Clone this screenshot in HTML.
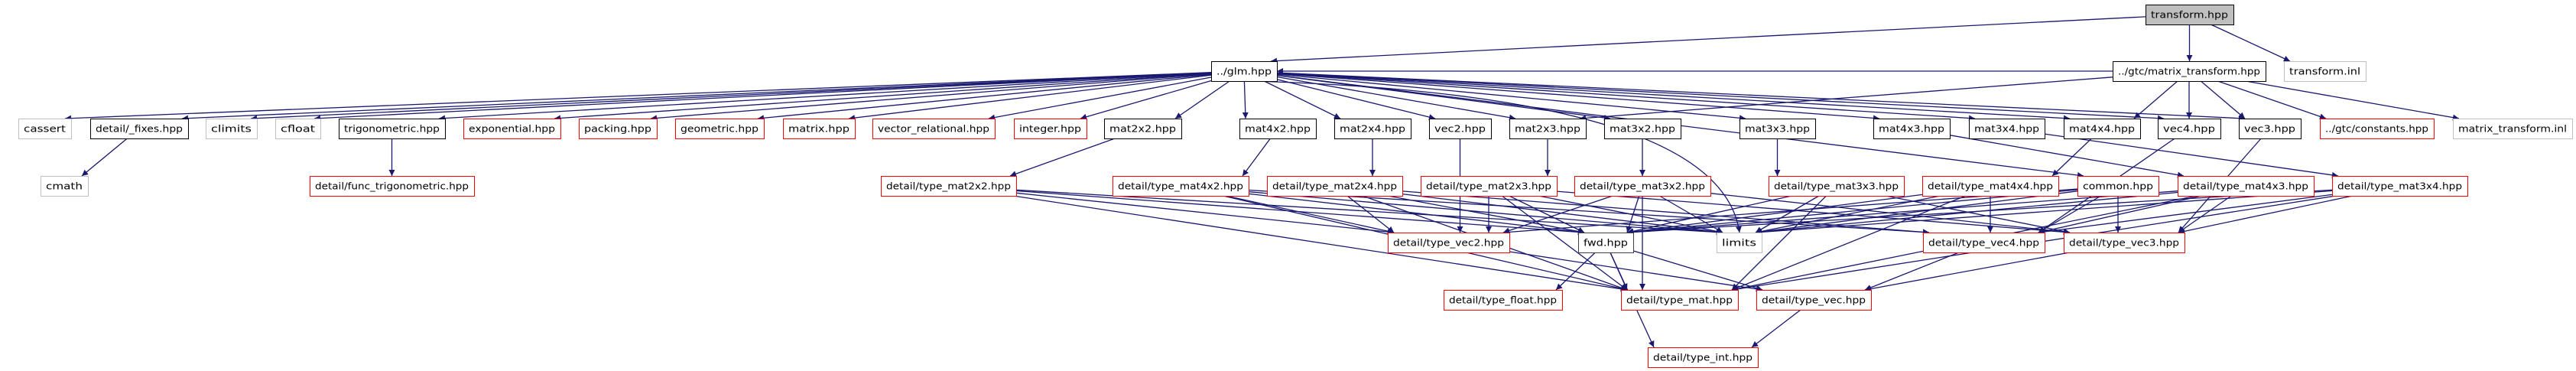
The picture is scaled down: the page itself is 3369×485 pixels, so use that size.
<!DOCTYPE html>
<html><head><meta charset="utf-8">
<style>
html,body{margin:0;padding:0;background:#fff;}
svg{display:block;}
text{font-family:"DejaVu Sans","Liberation Sans",sans-serif;font-size:12px;fill:#000;}
</style></head>
<body>
<svg id="g" xmlns="http://www.w3.org/2000/svg" width="3369" height="485" viewBox="0 0 3369 485">
<defs>
<marker id="a" viewBox="0 0 10 10" refX="10" refY="5" markerWidth="10" markerHeight="8" markerUnits="userSpaceOnUse" orient="auto">
<path d="M0,0 L10,5 L0,10 z" fill="#191970"/>
</marker>
</defs>
<g id="edges"></g>
<g id="nodes"></g>
</svg>
<script>
var R=[6,80,155,230,304,379,454],H=26;
var N={
T:["transform.hpp",2806,2921,0,"s"],
glm:["../glm.hpp",1584,1670,1,"b"],
mt:["../gtc/matrix_transform.hpp",2763,2963,1,"b"],
tinl:["transform.inl",2987,3094,1,"g"],
cassert:["cassert",24,93,2,"g"],
fixes:["detail/_fixes.hpp",118,246,2,"b"],
climits:["climits",269,336,2,"g"],
cfloat:["cfloat",360,419,2,"g"],
trig:["trigonometric.hpp",443,582,2,"b"],
exp:["exponential.hpp",606,733,2,"r"],
pack:["packing.hpp",757,859,2,"r"],
geom:["geometric.hpp",883,999,2,"r"],
matrix:["matrix.hpp",1024,1118,2,"r"],
vrel:["vector_relational.hpp",1141,1301,2,"r"],
integer:["integer.hpp",1326,1421,2,"r"],
m22:["mat2x2.hpp",1444,1545,2,"b"],
m42:["mat4x2.hpp",1621,1721,2,"b"],
m24:["mat2x4.hpp",1745,1845,2,"b"],
vec2:["vec2.hpp",1869,1950,2,"b"],
m23:["mat2x3.hpp",1974,2074,2,"b"],
m32:["mat3x2.hpp",2098,2198,2,"b"],
m33:["mat3x3.hpp",2275,2374,2,"b"],
m43:["mat4x3.hpp",2450,2550,2,"b"],
m34:["mat3x4.hpp",2575,2674,2,"b"],
m44:["mat4x4.hpp",2699,2799,2,"b"],
vec4:["vec4.hpp",2822,2904,2,"b"],
vec3:["vec3.hpp",2928,3009,2,"b"],
cons:["../gtc/constants.hpp",3034,3183,2,"r"],
mtinl:["matrix_transform.inl",3208,3364,2,"g"],
cmath:["cmath",53,115,3,"g"],
ftrig:["detail/func_trigonometric.hpp",405,620,3,"r"],
t22:["detail/type_mat2x2.hpp",1152,1329,3,"r"],
t42:["detail/type_mat4x2.hpp",1455,1633,3,"r"],
t24:["detail/type_mat2x4.hpp",1657,1834,3,"r"],
t23:["detail/type_mat2x3.hpp",1858,2036,3,"r"],
t32:["detail/type_mat3x2.hpp",2059,2237,3,"r"],
t33:["detail/type_mat3x3.hpp",2313,2490,3,"r"],
t44:["detail/type_mat4x4.hpp",2514,2692,3,"r"],
common:["common.hpp",2717,2823,3,"r"],
t43:["detail/type_mat4x3.hpp",2848,3026,3,"r"],
t34:["detail/type_mat3x4.hpp",3050,3227,3,"r"],
tv2:["detail/type_vec2.hpp",1815,1974,4,"r"],
fwd:["fwd.hpp",2064,2136,4,"d"],
limits:["limits",2245,2304,4,"g"],
tv4:["detail/type_vec4.hpp",2515,2674,4,"r"],
tv3:["detail/type_vec3.hpp",2699,2857,4,"r"],
tfloat:["detail/type_float.hpp",1888,2043,5,"r"],
tmat:["detail/type_mat.hpp",2120,2273,5,"r"],
tvec:["detail/type_vec.hpp",2297,2447,5,"r"],
tint:["detail/type_int.hpp",2155,2299,6,"r"]
};
var E=[["T","glm"],["T","mt"],["T","tinl"],["mt","glm"],["mt","m44"],["mt","vec4"],["mt","vec3"],["mt","cons"],["mt","mtinl"],["mt","m23"],
["fixes","cmath"],["trig","ftrig"],["m22","t22"],["m42","t42"],["m24","t24"],["m23","t23"],["m32","t32"],["m33","t33"],["m44","t44"],["m43","t43"],["m34","t34"],["vec2","tv2"],["vec4","tv4"],["vec3","tv3"],
["common","fwd"],["common","limits"],["common","tv4"],["common","tv3"],["common","tv2"],
["tv2","tvec"],["tv3","tvec"],["tv4","tvec"],["fwd","tfloat"],["fwd","tmat"],["fwd","tvec"],["fwd","tint"],["tvec","tint"]];
["cassert","fixes","climits","cfloat","trig","exp","pack","geom","matrix","vrel","integer","m22","m42","m24","vec2","m23","m32","m33","m43","m34","m44","vec4","vec3","limits","common"].forEach(function(k){E.push(["glm",k]);});
var vs={t22:["tv2"],t23:["tv2","tv3"],t24:["tv2","tv4"],t32:["tv3","tv2"],t33:["tv3"],t34:["tv3","tv4"],t42:["tv4","tv2"],t43:["tv4","tv3"],t44:["tv4"]};
for(var k in vs){E.push([k,"fwd"],[k,"limits"],[k,"tmat"]);vs[k].forEach(function(v){E.push([k,v]);});}
var ns="http://www.w3.org/2000/svg";
function box(n){var d=N[n];return {x1:d[1],x2:d[2],y1:R[d[3]],y2:R[d[3]]+H,cx:(d[1]+d[2])/2,cy:R[d[3]]+H/2};}
function clip(b,dx,dy){var hw=(b.x2-b.x1)/2;var tx=dx!==0?hw/Math.abs(dx):1e9,ty=dy!==0?(H/2)/Math.abs(dy):1e9;var t=Math.min(tx,ty);return [b.cx+dx*t,b.cy+dy*t];}
var eg=document.getElementById("edges");
E.forEach(function(e){
 var s=box(e[0]),t=box(e[1]);var p;
 if(e[0]=="glm"&&e[1]=="cmath"){
  p="M1584,90 C900,94 200,100 60,150 C0,175 20,205 62,230";
 }else if(e[0]=="glm"&&e[1]=="limits"){
  p="M1640,106 C2100,120 2260,200 2275,304";
 }else if(t.y1<=s.y1){
  var dx=t.cx-s.cx,dy=t.cy-s.cy;var a=clip(s,dx,dy),b=clip(t,-dx,-dy);
  p="M"+a[0].toFixed(1)+","+a[1].toFixed(1)+" L"+b[0].toFixed(1)+","+b[1].toFixed(1);
 }else{
  var bx=Math.min(Math.max(s.cx,t.x1+8),t.x2-8),by=t.y1;
  var dx=bx-s.cx,dy=by-s.cy;var a=clip(s,dx,dy);
  p="M"+a[0].toFixed(1)+","+a[1].toFixed(1)+" L"+bx.toFixed(1)+","+by;
 }
 var el=document.createElementNS(ns,"path");el.setAttribute("d",p);el.setAttribute("fill","none");el.setAttribute("stroke","#191970");el.setAttribute("stroke-width","1.3");el.setAttribute("marker-end","url(#a)");eg.appendChild(el);
});
var ng=document.getElementById("nodes");
var col={s:"#000",b:"#000",r:"#ff0000",g:"#bfbfbf",d:"#404040"};
for(var n in N){var d=N[n],b=box(n);
 var r=document.createElementNS(ns,"rect");r.setAttribute("x",b.x1+0.5);r.setAttribute("y",b.y1+0.5);r.setAttribute("width",b.x2-b.x1);r.setAttribute("height",H);
 r.setAttribute("fill",d[4]=="s"?"#bfbfbf":"#fff");r.setAttribute("stroke",col[d[4]]);r.setAttribute("stroke-width","1");ng.appendChild(r);
 var tx=document.createElementNS(ns,"text");tx.setAttribute("x",b.cx);tx.setAttribute("y",b.y1+17.5);tx.setAttribute("text-anchor","middle");
 tx.setAttribute("textLength",Math.max(10,b.x2-b.x1-14));tx.setAttribute("lengthAdjust","spacingAndGlyphs");tx.textContent=d[0];ng.appendChild(tx);}
</script>
</body></html>
